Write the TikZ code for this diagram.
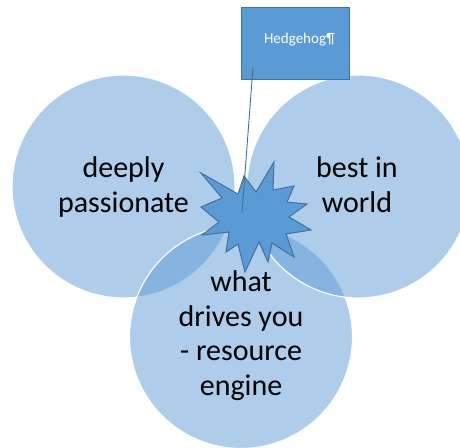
\documentclass[tikz,border=0pt]{standalone}
\usepackage{fontspec}
\setmainfont{Carlito}
\definecolor{acc}{HTML}{5B9BD5}
\definecolor{accdark}{HTML}{41719C}
\begin{document}
\begin{tikzpicture}[x=1pt,y=-1pt,
  venn/.style={circle, minimum size=223pt, inner sep=0pt, fill=acc, fill opacity=0.5, draw=white, draw opacity=1, line width=1.2pt},
  bigtext/.style={font=\fontsize{30}{34.5}\selectfont, align=center, text=black, inner sep=0pt},
  hbox/.style={fill=acc, draw=accdark, line width=1pt},
  burst/.style={fill=acc, draw=accdark, line width=1pt, line join=miter},
  leader/.style={draw=accdark, line width=0.9pt}]
\useasboundingbox (0,0) rectangle (460,447);
\clip (0,0) rectangle (460,447);
\node[venn] (left) at (123.5,186.5) {};
\node[venn] (bottom) at (241,337) {};
\node[venn] (right) at (358.5,186.5) {};
\draw[burst] (201,173) -- (238,194) -- (244,176) -- (256,192) -- (274,162) -- (273,190)
  -- (294,186) -- (287,202) -- (307,204) -- (289,217) -- (311,230) -- (286,234)
  -- (294,257) -- (272,243) -- (268,262) -- (259,242) -- (245,272) -- (238,244)
  -- (226,252) -- (229,232) -- (202,235) -- (219,222) -- (201,207) -- (222,198) -- cycle;
\node[hbox, minimum width=108pt, minimum height=72pt, inner sep=0pt] (hog) at (295,43) {};
\node[font=\fontsize{15}{18}\selectfont, text=white, anchor=base, inner sep=0pt] (hogtxt) at (299.5,43) {Hedgehog¶};
\coordinate (lnA) at (253,67);
\coordinate (lnB) at (242,213);
\draw[leader] (lnA) -- (lnB);
\node[bigtext, anchor=base] (t1) at (123.5,212) {deeply\\passionate};
\node[bigtext, anchor=base] (t2) at (357,212) {best in\\world};
\node[bigtext, anchor=base] (t3) at (241,395) {what\\drives you\\- resource\\engine};
\end{tikzpicture}
\end{document}
